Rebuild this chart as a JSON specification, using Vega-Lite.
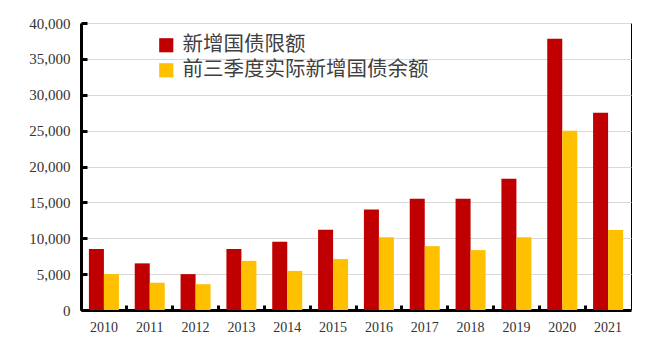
{
  "$schema": "https://vega.github.io/schema/vega-lite/v6.json",
  "autosize": {"type": "none"},
  "width": 550,
  "height": 287,
  "padding": {"left": 81, "top": 23, "right": 25, "bottom": 53},
  "background": "white",
  "config": {
    "view": {"stroke": "black", "strokeWidth": 1}
  },
  "data": {
    "values": [
      {"year": "2010", "series": "新增国债限额", "value": 8500},
      {"year": "2011", "series": "新增国债限额", "value": 6500},
      {"year": "2012", "series": "新增国债限额", "value": 5000},
      {"year": "2013", "series": "新增国债限额", "value": 8500},
      {"year": "2014", "series": "新增国债限额", "value": 9500},
      {"year": "2015", "series": "新增国债限额", "value": 11200},
      {"year": "2016", "series": "新增国债限额", "value": 14000},
      {"year": "2017", "series": "新增国债限额", "value": 15500},
      {"year": "2018", "series": "新增国债限额", "value": 15500},
      {"year": "2019", "series": "新增国债限额", "value": 18300},
      {"year": "2020", "series": "新增国债限额", "value": 37800},
      {"year": "2021", "series": "新增国债限额", "value": 27500},
      {"year": "2010", "series": "前三季度实际新增国债余额", "value": 5000},
      {"year": "2011", "series": "前三季度实际新增国债余额", "value": 3800},
      {"year": "2012", "series": "前三季度实际新增国债余额", "value": 3600},
      {"year": "2013", "series": "前三季度实际新增国债余额", "value": 6850},
      {"year": "2014", "series": "前三季度实际新增国债余额", "value": 5450},
      {"year": "2015", "series": "前三季度实际新增国债余额", "value": 7100},
      {"year": "2016", "series": "前三季度实际新增国债余额", "value": 10150},
      {"year": "2017", "series": "前三季度实际新增国债余额", "value": 8900},
      {"year": "2018", "series": "前三季度实际新增国债余额", "value": 8350},
      {"year": "2019", "series": "前三季度实际新增国债余额", "value": 10150},
      {"year": "2020", "series": "前三季度实际新增国债余额", "value": 25000},
      {"year": "2021", "series": "前三季度实际新增国债余额", "value": 11150}
    ]
  },
  "mark": {"type": "bar"},
  "encoding": {
    "x": {
      "field": "year", "type": "nominal",
      "scale": {"paddingInner": 0, "paddingOuter": 0},
      "axis": {
        "title": null, "labelAngle": 0, "labelFont": "Liberation Serif", "labelColor": "#333333",
        "labelFontSize": 14, "labelPadding": 15,
        "domainColor": "black", "domainWidth": 3,
        "tickColor": "black", "tickWidth": 3, "tickSize": -5, "bandPosition": 0,
        "grid": false
      }
    },
    "xOffset": {
      "field": "series",
      "scale": {"domain": ["新增国债限额", "前三季度实际新增国债余额"], "paddingInner": 0, "paddingOuter": 0.527}
    },
    "y": {
      "field": "value", "type": "quantitative",
      "scale": {"domain": [0, 40000], "nice": false},
      "axis": {
        "title": null, "values": [0, 5000, 10000, 15000, 20000, 25000, 30000, 35000, 40000],
        "format": ",d", "labelFont": "Liberation Serif", "labelColor": "#333333",
        "labelFontSize": 15, "labelPadding": 17,
        "domainColor": "black", "domainWidth": 3,
        "tickColor": "black", "tickWidth": 3, "tickSize": -6,
        "grid": true, "gridColor": "#d9d9d9", "gridWidth": 1
      }
    },
    "color": {
      "field": "series", "type": "nominal",
      "scale": {"domain": ["新增国债限额", "前三季度实际新增国债余额"], "range": ["#C00000", "#FFC000"]},
      "legend": {
        "title": null, "orient": "none", "legendX": 75, "legendY": 12,
        "symbolType": "square", "symbolSize": 200, "symbolStrokeWidth": 0, "symbolOpacity": 1,
        "labelFont": "Noto Sans CJK SC", "labelFontSize": 20.5, "labelColor": "#404040",
        "labelOffset": 6, "rowPadding": 4, "padding": 0, "labelLimit": 400
      }
    }
  }
}
